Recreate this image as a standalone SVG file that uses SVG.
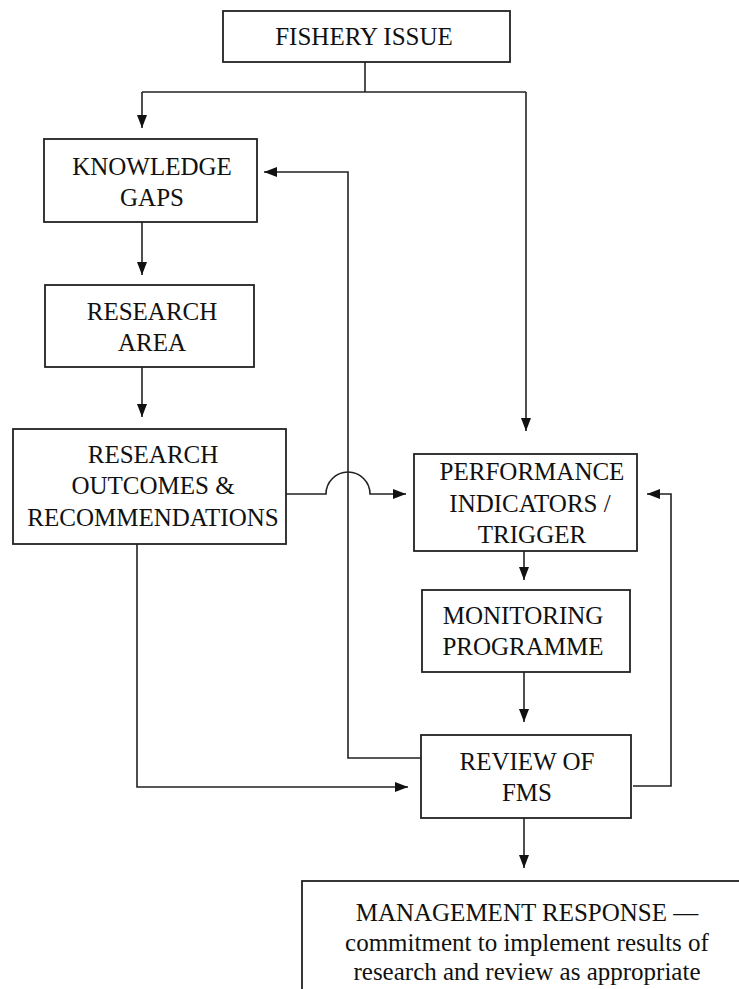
<svg xmlns="http://www.w3.org/2000/svg" width="739" height="989" viewBox="0 0 739 989">
<style>
.box{fill:#fff;stroke:#222;stroke-width:1.8}
.t{font-family:"Times New Roman",Times,Tinos,"Liberation Serif","Nimbus Roman","Noto Serif","DejaVu Serif",serif;font-size:25px;fill:#111;text-anchor:middle}
.c{fill:none;stroke:#222;stroke-width:1.6}
</style>
<defs>
<marker id="ah" markerUnits="userSpaceOnUse" markerWidth="13" markerHeight="12" viewBox="0 0 13 10" refX="13" refY="5" orient="auto">
<path d="M0,0 L13,5 L0,10 z" fill="#111"/>
</marker>
</defs>
<rect width="739" height="989" fill="#fff"/>
<g id="connectors">
<path class="c" d="M365,62 V92"/>
<path class="c" d="M142,92 H526"/>
<path class="c" d="M142,92 V128" marker-end="url(#ah)"/>
<path class="c" d="M526,92 V431" marker-end="url(#ah)"/>
<path class="c" d="M142,222 V275" marker-end="url(#ah)"/>
<path class="c" d="M142,367 V417" marker-end="url(#ah)"/>
<path class="c" d="M286,494 H326 A22,22 0 0 1 370,494 H406" marker-end="url(#ah)"/>
<path class="c" d="M137,544 V787 H408" marker-end="url(#ah)"/>
<path class="c" d="M421,758 H348 V172 H264" marker-end="url(#ah)"/>
<path class="c" d="M633,786 H671 V494 H647" marker-end="url(#ah)"/>
<path class="c" d="M524,551 V580" marker-end="url(#ah)"/>
<path class="c" d="M524,672 V722" marker-end="url(#ah)"/>
<path class="c" d="M524,818 V868" marker-end="url(#ah)"/>
</g>
<g id="fishery-issue">
<rect class="box" x="223" y="11" width="287" height="51"/>
<text class="t" x="364" y="45">FISHERY ISSUE</text>
</g>
<g id="knowledge-gaps">
<rect class="box" x="44" y="139" width="213" height="83"/>
<text class="t" x="152" y="175">KNOWLEDGE</text>
<text class="t" x="152" y="206">GAPS</text>
</g>
<g id="research-area">
<rect class="box" x="45" y="285" width="209" height="82"/>
<text class="t" x="152" y="320">RESEARCH</text>
<text class="t" x="152" y="351">AREA</text>
</g>
<g id="research-outcomes">
<rect class="box" x="13" y="429" width="273" height="115"/>
<text class="t" x="153" y="463">RESEARCH</text>
<text class="t" x="153" y="494">OUTCOMES &amp;</text>
<text class="t" x="153" y="526">RECOMMENDATIONS</text>
</g>
<g id="performance-indicators">
<rect class="box" x="414" y="454" width="223" height="97"/>
<text class="t" x="532" y="480">PERFORMANCE</text>
<text class="t" x="530" y="512">INDICATORS /</text>
<text class="t" x="532" y="543">TRIGGER</text>
</g>
<g id="monitoring-programme">
<rect class="box" x="422" y="590" width="208" height="82"/>
<text class="t" x="523" y="624">MONITORING</text>
<text class="t" x="523" y="655">PROGRAMME</text>
</g>
<g id="review-fms">
<rect class="box" x="421" y="735" width="210" height="83"/>
<text class="t" x="527" y="770">REVIEW OF</text>
<text class="t" x="527" y="801">FMS</text>
</g>
<g id="management-response">
<rect class="box" x="302" y="881" width="460" height="130"/>
<text class="t" x="527" y="921">MANAGEMENT RESPONSE —</text>
<text class="t" x="527" y="951">commitment to implement results of</text>
<text class="t" x="527" y="980">research and review as appropriate</text>
</g>
</svg>
